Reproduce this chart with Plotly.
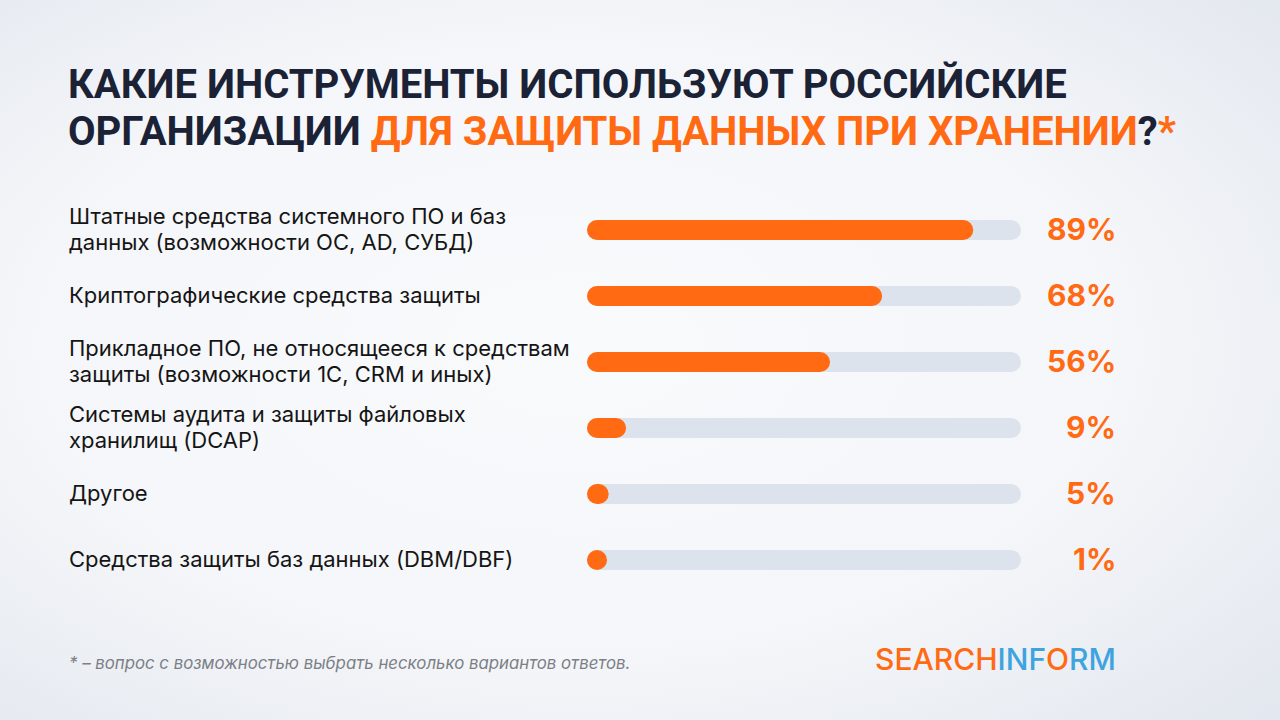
import plotly.graph_objects as go
import urllib.parse

categories = [
    "Штатные средства системного ПО и баз<br>данных (возможности ОС, AD, СУБД)",
    "Криптографические средства защиты",
    "Прикладное ПО, не относящееся к средствам<br>защиты (возможности 1С, CRM и иных)",
    "Системы аудита и защиты файловых<br>хранилищ (DCAP)",
    "Другое",
    "Средства защиты баз данных (DBM/DBF)",
]
values = [89, 68, 56, 9, 5, 1]
track_max = [100] * len(values)

ORANGE = "#FF6A13"
DARK = "#1B2235"
TRACK = "#DDE3EC"
BLUE = "#3EA3DE"

W, H = 1280, 720
x0_px, x1_px = 587, 1021
y_top_px, y_bot_px = 197, 593
BAR_PX = 20
px_per_unit = (x1_px - x0_px) / 100.0
min_len = BAR_PX / px_per_unit  # a bar is never drawn shorter than its round cap
shown = [max(v, min_len) for v in values]

keys = list(range(len(categories)))

fig = go.Figure()

svg = (
    "<svg xmlns='http://www.w3.org/2000/svg' width='1280' height='720' preserveAspectRatio='none'>"
    "<defs><radialGradient id='g' cx='0.45' cy='0.48' r='0.78'>"
    "<stop offset='0' stop-color='#F9FAFC'/>"
    "<stop offset='0.55' stop-color='#F4F6F9'/>"
    "<stop offset='1' stop-color='#E1E5ED'/>"
    "</radialGradient></defs>"
    "<rect width='1280' height='720' fill='url(#g)'/></svg>"
)
src = "data:image/svg+xml;charset=utf-8," + urllib.parse.quote(svg)
fig.add_layout_image(dict(source=src, xref="paper", yref="paper", x=0, y=1,
                          sizex=1, sizey=1, xanchor="left", yanchor="top",
                          sizing="stretch", layer="below"))

bar_w = BAR_PX / 66

fig.add_trace(go.Bar(x=track_max, y=keys, base=0, orientation="h",
                     marker=dict(color=TRACK, cornerradius=10, line=dict(width=0)),
                     width=bar_w, hoverinfo="skip"))
fig.add_trace(go.Bar(x=shown, y=keys, base=0, orientation="h",
                     marker=dict(color=ORANGE, cornerradius=10, line=dict(width=0)),
                     width=bar_w, customdata=values,
                     hovertemplate="%{customdata}%<extra></extra>"))

LINE = 26
for k, c in zip(keys, categories):
    lines = c.split("<br>")
    n = len(lines)
    for i, ln in enumerate(lines):
        shift = ((n - 1) / 2 - i) * LINE
        fig.add_annotation(x=67 / W, xref="paper", y=k, yref="y", text=ln,
                           xanchor="left", yanchor="middle", align="left",
                           showarrow=False, yshift=shift + 1,
                           font=dict(family="Inter", size=22, color="#151515"))

for k, v in zip(keys, values):
    fig.add_annotation(x=1118 / W, xref="paper", y=k, yref="y", text=f"{v}%",
                       xanchor="right", yanchor="middle", showarrow=False, yshift=1,
                       font=dict(family="Inter", size=30, color=ORANGE, weight=700))

TFONT = dict(family="Roboto", size=40, color=DARK, weight=700)
fig.add_annotation(x=66 / W, xref="paper", y=1 - 84 / H, yref="paper",
                   xanchor="left", yanchor="middle", align="left", showarrow=False,
                   text="КАКИЕ ИНСТРУМЕНТЫ ИСПОЛЬЗУЮТ РОССИЙСКИЕ", font=TFONT)
fig.add_annotation(x=66 / W, xref="paper", y=1 - 131 / H, yref="paper",
                   xanchor="left", yanchor="middle", align="left", showarrow=False,
                   text=(f"ОРГАНИЗАЦИИ <span style='color:{ORANGE}'>ДЛЯ ЗАЩИТЫ ДАННЫХ ПРИ ХРАНЕНИИ</span>"
                         f"?<span style='color:{ORANGE}'>*</span>"),
                   font=TFONT)

fig.add_annotation(x=67 / W, xref="paper", y=1 - 663 / H, yref="paper",
                   xanchor="left", yanchor="middle", showarrow=False,
                   text="<i>* – вопрос с возможностью выбрать несколько вариантов ответов.</i>",
                   font=dict(family="Inter", size=16.8, color="#7C7F86"))

fig.add_annotation(x=1118 / W, xref="paper", y=1 - 659 / H, yref="paper",
                   xanchor="right", yanchor="middle", showarrow=False,
                   text=(f"<span style='color:{ORANGE}'>SEARCH</span>"
                         f"<span style='color:{BLUE}'>INF</span>"
                         f"<span style='color:{ORANGE}'>O</span>"
                         f"<span style='color:{BLUE}'>RM</span>"),
                   font=dict(family="Inter", size=30, weight=500))

fig.update_layout(
    width=W, height=H, margin=dict(l=0, r=0, t=0, b=0),
    paper_bgcolor="#F3F5F8", plot_bgcolor="rgba(0,0,0,0)",
    barmode="overlay", showlegend=False,
    xaxis=dict(range=[0, 100], domain=[x0_px / W, x1_px / W], visible=False,
               fixedrange=True),
    yaxis=dict(range=[len(keys) - 0.5, -0.5], domain=[1 - y_bot_px / H, 1 - y_top_px / H],
               visible=False, fixedrange=True),
)

fig.write_html("out.html", config={"displayModeBar": False},
               post_script="document.body.style.margin='0';document.body.style.background='#F3F5F8';")
